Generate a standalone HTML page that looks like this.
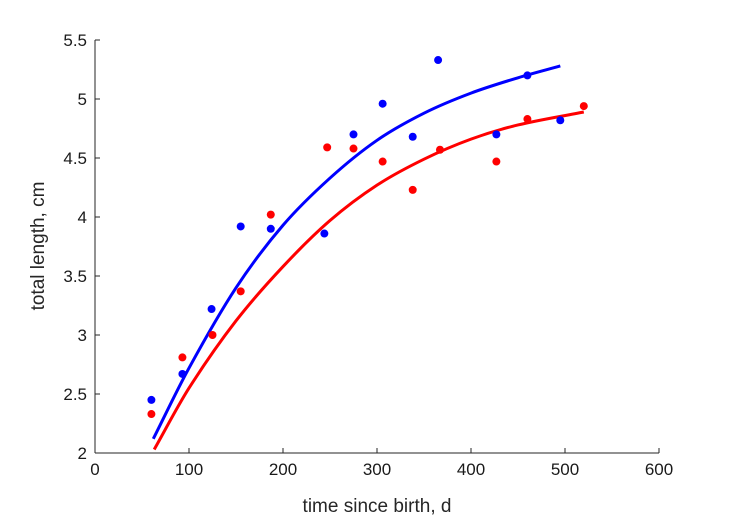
<!DOCTYPE html>
<html><head><meta charset="utf-8"><style>
body{margin:0;background:#fff;}
svg{display:block;font-family:"Liberation Sans",sans-serif;}
</style></head><body>
<svg id="chart" width="729" height="521">
<rect width="729" height="521" fill="#fff"/>
<g id="axes"></g><g id="series"></g>
<text x="377" y="512" text-anchor="middle" font-size="19" fill="#262626">time since birth, d</text>
<text transform="translate(44,246) rotate(-90)" text-anchor="middle" font-size="19" fill="#262626">total length, cm</text>
</svg>
<script>
const xTicks=[0,100,200,300,400,500,600];
const yTicks=[2,2.5,3,3.5,4,4.5,5,5.5];
const yTickLabels=["2","2.5","3","3.5","4","4.5","5","5.5"];
const blueT=[60,93,124,155,187,244,275,306,338,365,427,460,495];
const blueL=[2.45,2.67,3.22,3.92,3.90,3.86,4.70,4.96,4.68,5.33,4.70,5.20,4.82];
const redT=[60,93,125,155,187,247,275,306,338,367,427,460,520];
const redL=[2.33,2.81,3.00,3.37,4.02,4.59,4.58,4.47,4.23,4.57,4.47,4.83,4.94];
const blueFitT=[62,100,150,200,250,300,350,400,450,495];
const blueFitL=[2.12,2.72,3.40,3.93,4.33,4.65,4.88,5.05,5.18,5.28];
const redFitT=[63,100,150,200,250,300,350,400,450,520];
const redFitL=[2.03,2.55,3.12,3.58,3.97,4.27,4.49,4.66,4.78,4.89];

const NS="http://www.w3.org/2000/svg";
const X0=95,X1=659,Y0=453,Y1=40;
const sx=v=>X0+(v-0)/(600-0)*(X1-X0);
const sy=v=>Y0-(v-2)/(5.5-2)*(Y0-Y1);
function mk(tag,attrs,parent){const e=document.createElementNS(NS,tag);for(const k in attrs)e.setAttribute(k,attrs[k]);parent.appendChild(e);return e;}
const axes=document.getElementById('axes'),ser=document.getElementById('series');
let xa=mk('line',{x1:X0,y1:Y0,x2:X1,y2:Y0,stroke:'#262626','stroke-width':1},axes);


let ya=mk('line',{x1:X0,y1:Y0,x2:X0,y2:Y1,stroke:'#262626','stroke-width':1},axes);


xTicks.forEach(t=>{
  mk('line',{x1:sx(t),y1:Y0,x2:sx(t),y2:Y0-5,stroke:'#262626'},axes);
  const tx=mk('text',{x:sx(t),y:Y0+22,'text-anchor':'middle','font-size':17,fill:'#1a1a1a'},axes);
  tx.textContent=t;
  
  
});
yTicks.forEach((t,i)=>{
  mk('line',{x1:X0,y1:sy(t),x2:X0+5,y2:sy(t),stroke:'#262626'},axes);
  const tx=mk('text',{x:X0-8,y:sy(t)+6,'text-anchor':'end','font-size':17,fill:'#1a1a1a'},axes);
  tx.textContent=yTickLabels[i];
  
  
});
function curve(T,L,color,name){
  const p=T.map((t,i)=>[sx(t),sy(L[i])]);
  const n=p.length;
  const m=[];
  for(let i=0;i<n;i++){
    const a=p[Math.max(0,i-1)],c=p[Math.min(n-1,i+1)];
    m.push((c[1]-a[1])/(c[0]-a[0]));
  }
  let d='M'+p[0][0]+','+p[0][1];
  for(let i=0;i<n-1;i++){
    const b=p[i],c=p[i+1],h=(c[0]-b[0])/3;
    d+=` C${b[0]+h},${b[1]+m[i]*h} ${c[0]-h},${c[1]-m[i+1]*h} ${c[0]},${c[1]}`;
  }
  const pa=mk('path',{d:d,fill:'none',stroke:color,'stroke-width':3},ser);
  
  
}
function pts(T,L,color,name){
  T.forEach((t,i)=>{
    const c=mk('circle',{cx:sx(t),cy:sy(L[i]),r:4,fill:color},ser);
    
    
  });
}
curve(redFitT,redFitL,'#ff0000','red-fit-curve');
curve(blueFitT,blueFitL,'#0000ff','blue-fit-curve');
pts(redT,redL,'#ff0000','red-point');
pts(blueT,blueL,'#0000ff','blue-point');
</script>
</body></html>
